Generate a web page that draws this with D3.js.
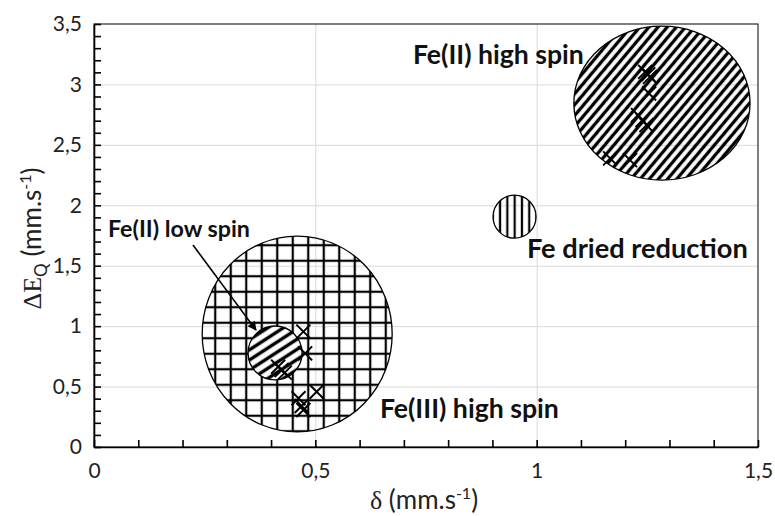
<!DOCTYPE html>
<html><head><meta charset="utf-8">
<script src="https://cdn.jsdelivr.net/npm/d3@7"></script>
<style>body{margin:0;background:#fff}svg{display:block}</style>
</head><body>
<svg id="chart" width="775" height="516"></svg>
<script>
// ---------- data ----------
const xTicks = [0, 0.5, 1, 1.5];
const yTicks = [0, 0.5, 1, 1.5, 2, 2.5, 3, 3.5];
const xTickLabels = ["0", "0,5", "1", "1,5"];
const yTickLabels = ["0", "0,5", "1", "1,5", "2", "2,5", "3", "3,5"];

// measured points: isomer shift (delta) and quadrupole splitting (dEQ)
const pointDelta = [1.245, 1.252, 1.256, 1.254, 1.229, 1.239, 1.248, 1.166, 1.211,
                    0.473, 0.477, 0.416, 0.424, 0.431, 0.503, 0.462, 0.469, 0.473];
const pointDEQ   = [3.104, 3.083, 3.063, 2.925, 2.746, 2.705, 2.663, 2.388, 2.374,
                    0.954, 0.775, 0.664, 0.637, 0.615, 0.457, 0.403, 0.339, 0.306];

// regions (ellipses in data units)
const regionNames = ["Fe(III) high spin", "Fe dried reduction", "Fe(II) high spin", "Fe(II) low spin"];
const regionCx = [0.459, 0.950, 1.283, 0.409];
const regionCy = [0.935, 1.906, 2.845, 0.778];
const regionRx = [0.2146, 0.0486, 0.199, 0.061];
const regionRy = [0.810, 0.178, 0.637, 0.223];
const regionFill = ["grid", "vert", "diagHigh", "diagLow"];

// annotation labels (left x, baseline y in data units)
const labelText = ["Fe(II) high spin", "Fe dried reduction", "Fe(II) low spin", "Fe(III) high spin"];
const labelX = [0.7206, 0.978, 0.0316, 0.646];
const labelY = [3.168, 1.563, 1.737, 0.240];
const labelWidth = [171, 221, 142, 179];

// arrow (data units)
const arrowFrom = [0.2236, 1.671];
const arrowTo = [0.366, 0.968];

// ---------- drawing ----------
(function () {
const svg = d3.select("#chart");
const pL = 94, pR = 758, pT = 24, pB = 447;
const x = d3.scaleLinear().domain([0, 1.5]).range([pL, pR]);
const y = d3.scaleLinear().domain([0, 3.5]).range([pB, pT]);
const FONT = "Lato, 'Open Sans', sans-serif";

const defs = svg.append("defs");
function stripes(id, period, sw, angle, bg) {
  const p = defs.append("pattern").attr("id", id).attr("patternUnits", "userSpaceOnUse")
    .attr("width", period).attr("height", period)
    .attr("patternTransform", `rotate(${angle})`);
  if (bg) p.append("rect").attr("width", period).attr("height", period).attr("fill", bg);
  p.append("line").attr("x1", period / 2).attr("x2", period / 2).attr("y1", 0).attr("y2", period)
    .attr("stroke", "#000").attr("stroke-width", sw);
}
stripes("diagHigh", 7, 3.3, 40, null);
stripes("diagLow", 8.5, 3.4, 57, "#fff");
stripes("vert", 7.3, 2.2, 0, null);
const g = defs.append("pattern").attr("id", "grid").attr("patternUnits", "userSpaceOnUse")
  .attr("width", 15.5).attr("height", 15.5).attr("x", 6).attr("y", 5);
g.append("line").attr("x1", 7.75).attr("x2", 7.75).attr("y1", 0).attr("y2", 15.5).attr("stroke", "#000").attr("stroke-width", 2.2);
g.append("line").attr("y1", 7.75).attr("y2", 7.75).attr("x1", 0).attr("x2", 15.5).attr("stroke", "#000").attr("stroke-width", 2.2);

// gridlines
svg.append("g").attr("transform", `translate(${pL},0)`)
  .call(d3.axisLeft(y).tickValues(yTicks.filter(d => d > 0 && d < 3.5)).tickSize(-(pR - pL)).tickFormat(""))
  .call(s => s.select(".domain").remove())
  .call(s => s.selectAll("line").attr("stroke", "#d9d9d9").attr("stroke-width", 1));
svg.append("g").attr("transform", `translate(0,${pB})`)
  .call(d3.axisBottom(x).tickValues(xTicks.filter(d => d > 0 && d < 1.5)).tickSize(-(pB - pT)).tickFormat(""))
  .call(s => s.select(".domain").remove())
  .call(s => s.selectAll("line").attr("stroke", "#d9d9d9").attr("stroke-width", 1));

// regions
const regions = regionNames.map((n, i) => ({n, cx: regionCx[i], cy: regionCy[i], rx: regionRx[i], ry: regionRy[i], f: regionFill[i]}));
svg.append("g").selectAll("ellipse").data(regions).join("ellipse")
  .attr("cx", d => x(d.cx)).attr("cy", d => y(d.cy))
  .attr("rx", d => x(d.cx + d.rx) - x(d.cx)).attr("ry", d => y(d.cy) - y(d.cy + d.ry))
  .attr("fill", d => `url(#${d.f})`).attr("stroke", "#000").attr("stroke-width", 1.3);

// points
const pts = pointDelta.map((d, i) => [d, pointDEQ[i]]);
svg.append("g").selectAll("path").data(pts).join("path")
  .attr("transform", d => `translate(${x(d[0])},${y(d[1])})`)
  .attr("d", "M-7,-7L7,7M-7,7L7,-7")
  .attr("stroke", "#000").attr("stroke-width", 1.9).attr("fill", "none");

// frame
svg.append("rect").attr("x", pL).attr("y", pT).attr("width", pR - pL).attr("height", pB - pT)
  .attr("fill", "none").attr("stroke", "#000").attr("stroke-width", 1);

// axes with minor inside ticks
const yMinor = d3.range(0, 36).map(i => i / 10);
const xMinor = d3.range(0, 16).map(i => i / 10);
svg.append("g").attr("transform", `translate(${pL},0)`)
  .call(d3.axisLeft(y).tickValues(yMinor).tickSize(-7).tickSizeOuter(0).tickFormat(""))
  .call(s => s.selectAll("line,path").attr("stroke", "#000").attr("stroke-width", 1.6));
svg.append("g").attr("transform", `translate(0,${pB})`)
  .call(d3.axisBottom(x).tickValues(xMinor).tickSize(-7).tickSizeOuter(0).tickFormat(""))
  .call(s => s.selectAll("line,path").attr("stroke", "#000").attr("stroke-width", 1.6));

// tick labels
svg.append("g").attr("transform", `translate(${pL},0)`)
  .call(d3.axisLeft(y).tickValues(yTicks).tickSize(0).tickPadding(12).tickFormat((d, i) => yTickLabels[i]))
  .call(s => s.select(".domain").remove())
  .call(s => s.selectAll("text").attr("font-family", FONT).attr("font-size", 21).attr("fill", "#222"));
svg.append("g").attr("transform", `translate(0,${pB})`)
  .call(d3.axisBottom(x).tickValues(xTicks).tickSize(0).tickPadding(24).tickFormat((d, i) => xTickLabels[i]))
  .call(s => s.select(".domain").remove())
  .call(s => s.selectAll("text").attr("font-family", FONT).attr("font-size", 21).attr("fill", "#222").attr("dy", "0.35em"));

// axis titles
const xt = svg.append("text").attr("x", (pL + pR) / 2 - 2).attr("y", 509).attr("text-anchor", "middle")
  .attr("font-family", FONT).attr("font-size", 26).attr("fill", "#222");
xt.append("tspan").attr("font-family", "'Liberation Serif', serif").text("δ");
xt.append("tspan").text(" (mm.s");
xt.append("tspan").attr("font-size", 16).attr("dy", -10).text("-1");
xt.append("tspan").attr("dy", 10).text(")");

const yt = svg.append("text").attr("transform", `translate(41,${(pT + pB) / 2 + 3}) rotate(-90)`)
  .attr("text-anchor", "middle").attr("font-family", FONT).attr("font-size", 26).attr("fill", "#222");
yt.append("tspan").attr("font-family", "'Liberation Serif', serif").text("ΔE");
yt.append("tspan").attr("font-size", 17).attr("dy", 6).text("Q");
yt.append("tspan").attr("dy", -6).text(" (mm.s");
yt.append("tspan").attr("font-size", 16).attr("dy", -10).text("-1");
yt.append("tspan").attr("dy", 10).text(")");

// annotations
const labels = svg.append("g").selectAll("text").data(labelText).join("text")
  .attr("x", (d, i) => x(labelX[i])).attr("y", (d, i) => y(labelY[i]))
  .attr("font-family", FONT).attr("font-weight", "bold").attr("font-size", 24).attr("fill", "#111")
  .text(d => d);
labels.each(function (d, i) {
  const w = this.getComputedTextLength();
  d3.select(this).attr("font-size", 24 * labelWidth[i] / w);
});

// arrow
defs.append("marker").attr("id", "ah").attr("viewBox", "0 0 10 10").attr("refX", 9).attr("refY", 5)
  .attr("markerWidth", 11).attr("markerHeight", 9).attr("markerUnits", "userSpaceOnUse").attr("orient", "auto")
  .append("path").attr("d", "M0,0L10,5L0,10Z").attr("fill", "#000");
svg.append("line")
  .attr("x1", x(arrowFrom[0])).attr("y1", y(arrowFrom[1]))
  .attr("x2", x(arrowTo[0])).attr("y2", y(arrowTo[1]))
  .attr("stroke", "#000").attr("stroke-width", 1.6).attr("marker-end", "url(#ah)");
})();
</script>
</body></html>
